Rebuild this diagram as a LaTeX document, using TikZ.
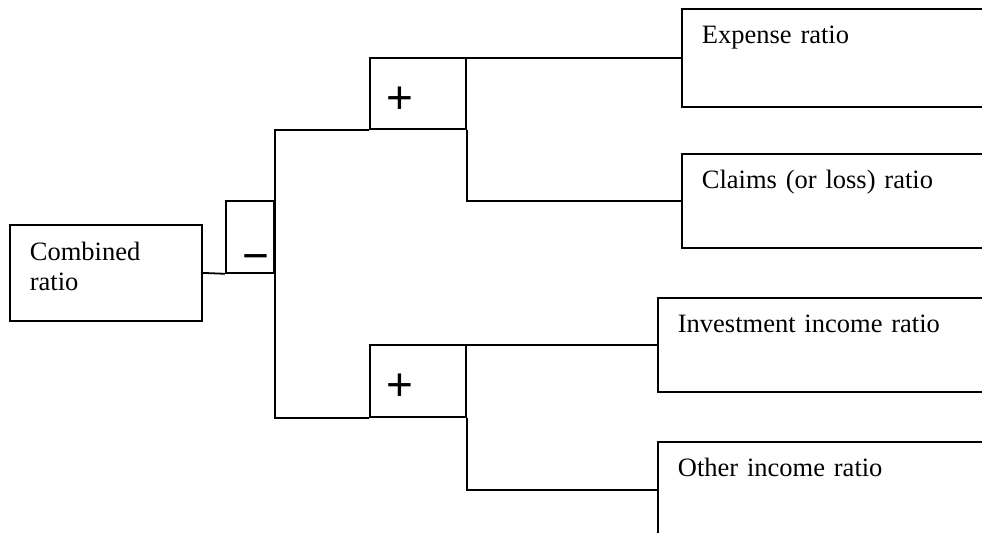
\documentclass[tikz,border=0pt]{standalone}
\usepackage{fontspec}
\setmainfont{Liberation Serif}
\newfontfamily\signfont{Liberation Sans}
\usetikzlibrary{positioning}

\begin{document}
\begin{tikzpicture}[
    x=1bp, y=-1bp,
    ratiobox/.style={rectangle, draw, line width=1.8bp, anchor=north west, inner xsep=20bp, inner ysep=0bp, align=left, font=\fontsize{26.5bp}{30bp}\selectfont, text height=35bp},
    signbox/.style={rectangle, draw, line width=1.8bp, anchor=north west, inner xsep=17bp, inner ysep=0bp, align=left, font=\signfont\fontsize{46bp}{46bp}\selectfont, text height=56bp},
    conn/.style={draw, line width=1.8bp}
]
\useasboundingbox (0,0) rectangle (982,533);
\clip (0,0) rectangle (982,533);

% Root
\node[ratiobox, text width=152bp, text height=36bp, text depth=60bp] (combined) at (9,224) {Combined\\ratio};
\node[signbox, text width=14bp, text height=71bp, text depth=1bp] (minus) at (225,200) {−};

% Operators
\node[signbox, text width=62bp, text depth=15bp] (plusA) at (369,57) {+};
\node[signbox, text width=62bp, text depth=16bp] (plusB) at (369,344) {+};

% Leaf ratios
\node[ratiobox, text width=360bp, text depth=63bp] (expense) at (681,8) {Expense ratio};
\node[ratiobox, text width=360bp, text depth=59bp] (claims) at (681,153) {Claims (or loss) ratio};
\node[ratiobox, text width=360bp, text depth=59bp] (invest) at (657,297) {Investment income ratio};
\node[ratiobox, text width=360bp, text depth=61bp] (other) at (657,441) {Other income ratio};

% Connectors
\draw[conn] (combined.east) -- (minus.south west);
\draw[conn] (plusA.south west) -| (minus.south east);
\draw[conn] (plusB.south west) -| (minus.south east);
\draw[conn] (expense.west) -| (plusA.north east);
\draw[conn] (claims.west) -| (plusA.south east);
\draw[conn] (invest.west) -| (plusB.north east);
\draw[conn] (other.west) -| (plusB.south east);

\end{tikzpicture}
\end{document}
